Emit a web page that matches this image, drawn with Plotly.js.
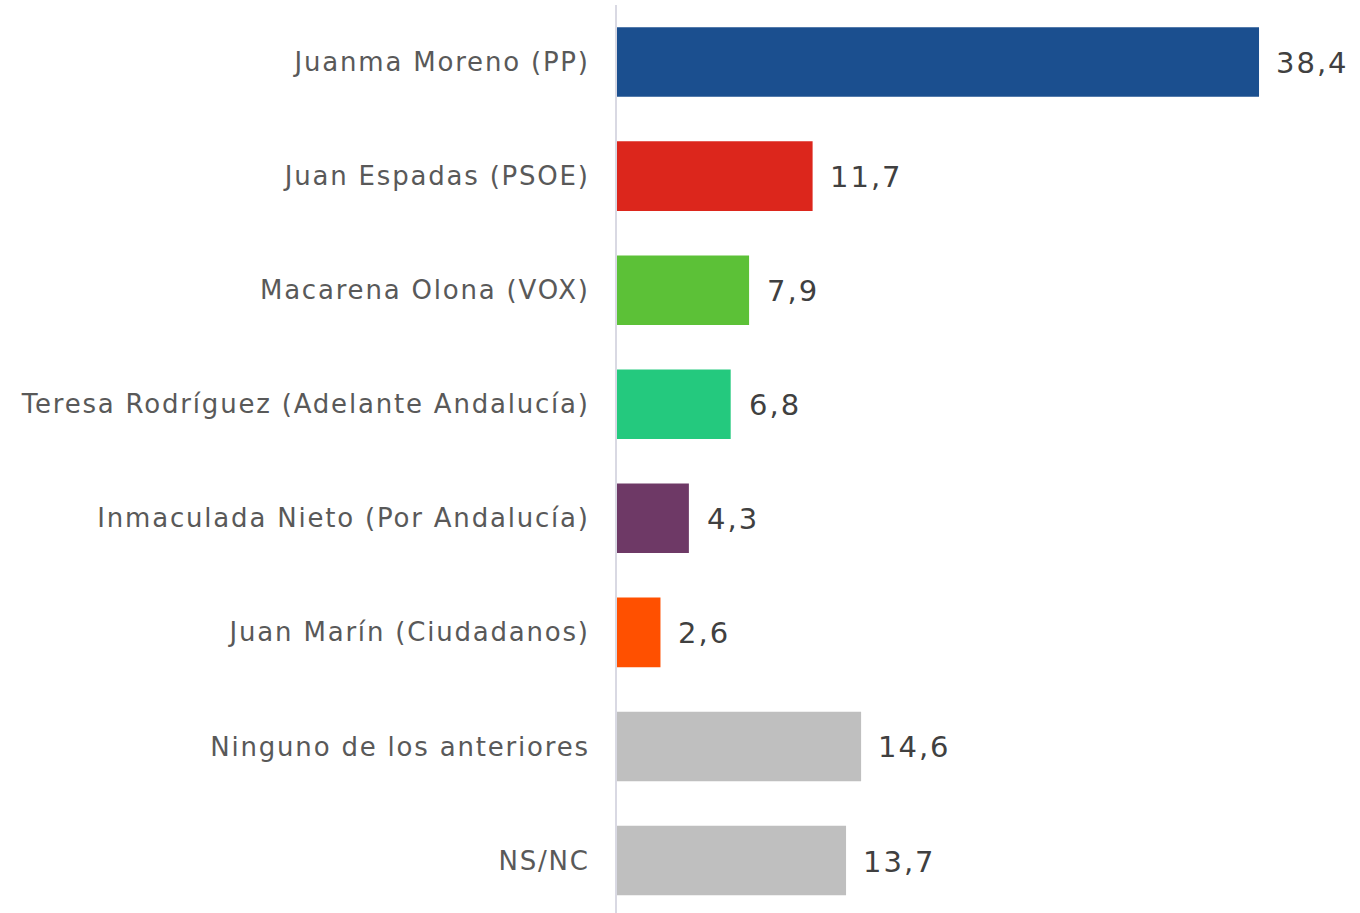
<!DOCTYPE html>
<html>
<head>
<meta charset="utf-8">
<script src="https://cdn.plot.ly/plotly-3.0.1.min.js"></script>
<style>
html,body{margin:0;padding:0;background:#fff;}
#chart{width:1360px;height:913px;}
.ytick text{letter-spacing:1.8px;}
.annotation-text-g text{letter-spacing:2px;}
</style>
</head>
<body>
<div id="chart"></div>
<script>
var categories = [
  "Juanma Moreno (PP)",
  "Juan Espadas (PSOE)",
  "Macarena Olona (VOX)",
  "Teresa Rodríguez (Adelante Andalucía)",
  "Inmaculada Nieto (Por Andalucía)",
  "Juan Marín (Ciudadanos)",
  "Ninguno de los anteriores",
  "NS/NC"
];
var values = [38.4, 11.7, 7.9, 6.8, 4.3, 2.6, 14.6, 13.7];
var valueLabels = ["38,4", "11,7", "7,9", "6,8", "4,3", "2,6", "14,6", "13,7"];
var barColors = ["#1b4f8f", "#dc261c", "#5cc137", "#24c97e", "#6e3966", "#ff5000", "#bfbfbf", "#bfbfbf"];

var FONT = "DejaVu Sans, sans-serif";

var trace = {
  type: "bar",
  orientation: "h",
  x: values,
  y: categories,
  marker: {color: barColors},
  width: 0.61,
  hoverinfo: "none"
};

var annotations = values.map(function(v, i) {
  return {
    x: v, y: categories[i], xref: "x", yref: "y",
    text: valueLabels[i], showarrow: false,
    xanchor: "left", yanchor: "middle", xshift: 19, yshift: -1,
    font: {family: FONT, size: 29, color: "#404040"}
  };
});

var layout = {
  width: 1360, height: 913,
  margin: {l: 617, r: 0, t: 5, b: 0},
  paper_bgcolor: "#ffffff", plot_bgcolor: "#ffffff",
  showlegend: false,
  xaxis: {range: [0, 44.44], showgrid: false, zeroline: false, showticklabels: false, showline: false, fixedrange: true},
  yaxis: {
    type: "category", categoryorder: "array", categoryarray: categories,
    range: [7.46, -0.5], showgrid: false, zeroline: false,
    showline: true, linecolor: "#d9d9e3", linewidth: 2,
    ticks: "", ticklabelstandoff: 20,
    tickfont: {family: FONT, size: 26, color: "#595959"}
  },
  annotations: annotations
};

Plotly.newPlot("chart", [trace], layout, {displayModeBar: false, staticPlot: true});
</script>
</body>
</html>
